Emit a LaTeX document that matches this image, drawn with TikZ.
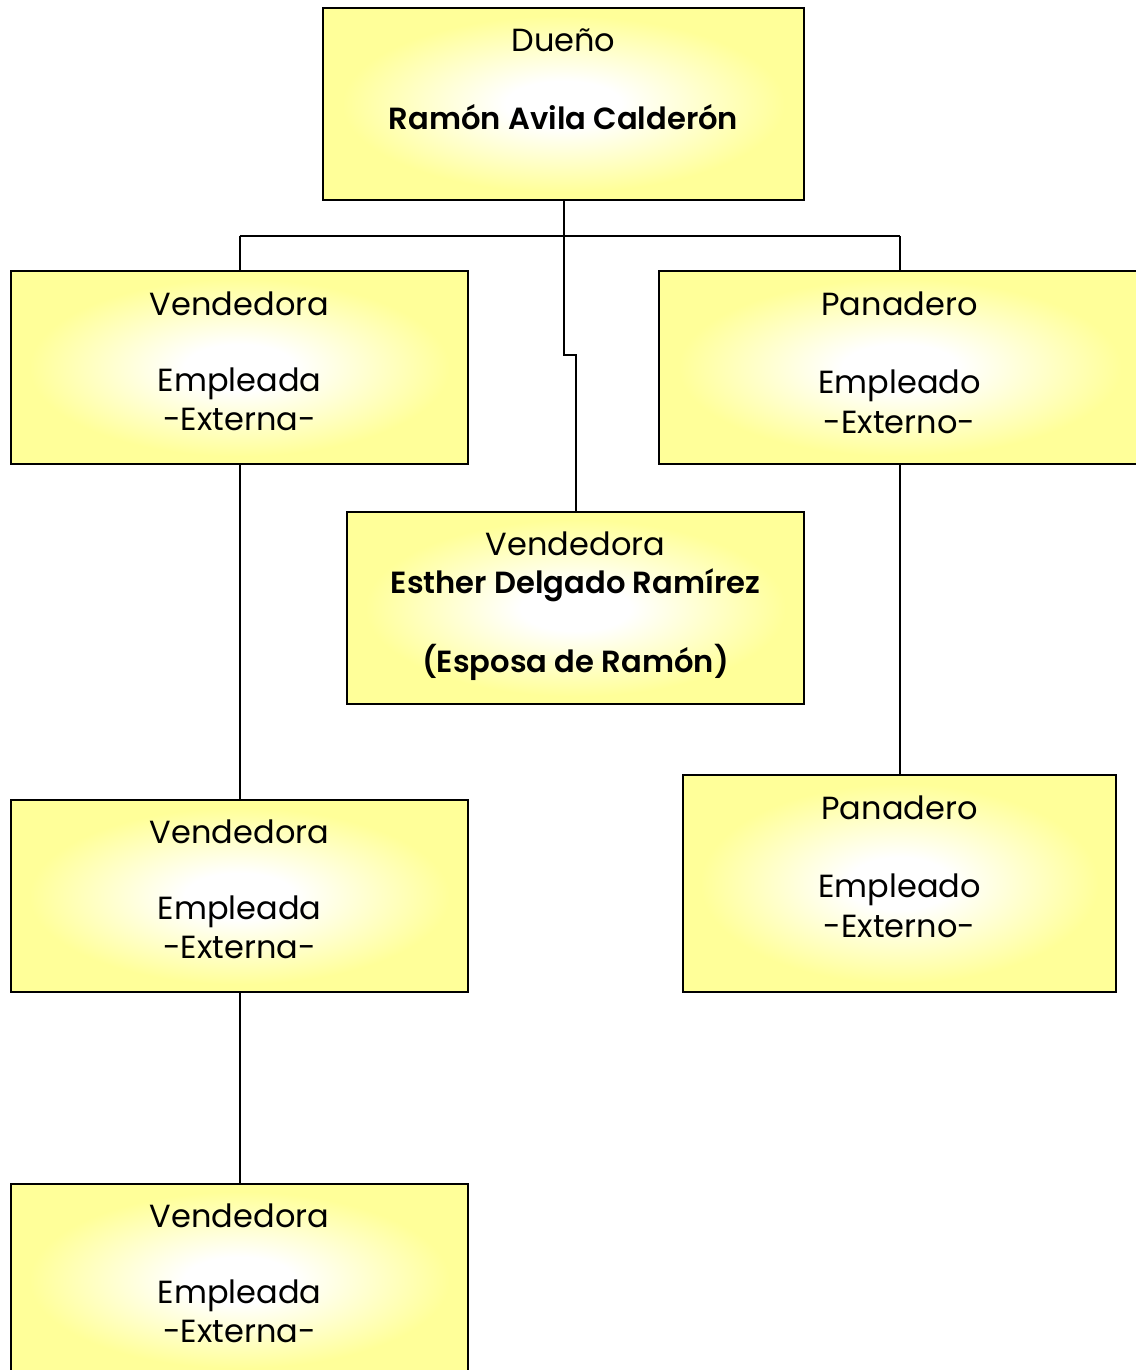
\documentclass[tikz,border=0pt]{standalone}
\usepackage{fontspec}
\setmainfont{Poppins}[BoldFont={Poppins SemiBold}]
\definecolor{boxyellow}{RGB}{255,255,153}
\pgfdeclareradialshading{boxshade}{\pgfpoint{0bp}{0bp}}{color(0bp)=(white); color(6bp)=(white); color(23bp)=(boxyellow); color(50bp)=(boxyellow)}
\tikzset{
  box/.style={draw=black, line width=1pt, shading=boxshade, rectangle, inner sep=0pt},
  txt/.style={anchor=base, inner sep=0pt, font=\fontsize{16}{19.5}\selectfont},
  btxt/.style={anchor=base, inner sep=0pt, font=\fontsize{15.3}{19.5}\selectfont\bfseries},
  conn/.style={draw=black, line width=1pt}
}
\begin{document}
\begin{tikzpicture}[x=0.5pt,y=-0.5pt]
\useasboundingbox[fill=white] (0,0) rectangle (1135,1370);
% boxes
\node[box, minimum width=240.5pt, minimum height=96pt] (D) at (563.5,104) {};
\node[box, minimum width=241pt, minimum height=96.5pt] (P1) at (900,367.5) {};
\node[box, minimum width=228.5pt, minimum height=96.5pt] (V1) at (239.5,367.5) {};
\node[box, minimum width=228.5pt, minimum height=96pt] (E) at (575.5,608) {};
\node[box, minimum width=228.5pt, minimum height=96pt] (V2) at (239.5,896) {};
\node[box, minimum width=216.5pt, minimum height=108.5pt] (P2) at (899.5,883.5) {};
\node[box, minimum width=228.5pt, minimum height=96pt] (V3) at (239.5,1280) {};
% texts
\node[txt] (d1) at (563.5,52) {Dueño};
\node[btxt] (d2) at (563.5,129) {Ramón Avila Calderón};
\node[txt] (v1a) at (239.5,315) {Vendedora};
\node[txt] (v1b) at (239.5,391) {Empleada};
\node[txt] (v1c) at (239.5,430) {-Externa-};
\node[txt] (p1a) at (899.5,315) {Panadero};
\node[txt] (p1b) at (899.5,393) {Empleado};
\node[txt] (p1c) at (899.5,433) {-Externo-};
\node[txt] (e1) at (575.5,555) {Vendedora};
\node[btxt] (e2) at (575.5,593) {Esther Delgado Ramírez};
\node[btxt] (e3) at (575.5,672) {(Esposa de Ramón)};
\node[txt] (v2a) at (239.5,843) {Vendedora};
\node[txt] (v2b) at (239.5,919) {Empleada};
\node[txt] (v2c) at (239.5,958) {-Externa-};
\node[txt] (p2a) at (899.5,819) {Panadero};
\node[txt] (p2b) at (899.5,897) {Empleado};
\node[txt] (p2c) at (899.5,937) {-Externo-};
\node[txt] (v3a) at (239.5,1227) {Vendedora};
\node[txt] (v3b) at (239.5,1303) {Empleada};
\node[txt] (v3c) at (239.5,1342) {-Externa-};
% connector points
\coordinate (hub) at (563.5,236);
\coordinate (hl) at (239.5,236);
\coordinate (hr) at (899.5,236);
\coordinate (j1) at (563.5,355);
\coordinate (j2) at (575.5,355);
% connectors
\draw[conn] (D.south) -- (hub);
\draw[conn] (hl) -- (hr);
\draw[conn] (hl) -- (V1.north);
\draw[conn] (hr) -- (hr |- P1.north);
\draw[conn] (hub) -- (j1) -- (j2) -- (E.north);
\draw[conn] (V1.south) -- (V2.north);
\draw[conn] (V2.south) -- (V3.north);
\draw[conn] (P2.north |- P1.south) -- (P2.north);
\end{tikzpicture}
\end{document}
